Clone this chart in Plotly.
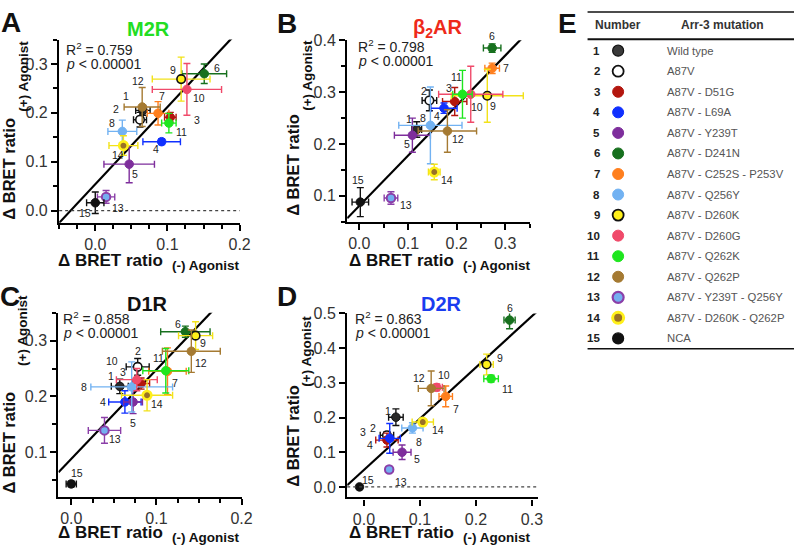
import plotly.graph_objects as go

W, H = 805, 546

# ---------------- data ----------------
numbers = list(range(1, 16))
mutations = ["Wild type", "A87V", "A87V - D51G", "A87V - L69A", "A87V - Y239T",
             "A87V - D241N", "A87V - C252S - P253V", "A87V - Q256Y", "A87V - D260K",
             "A87V - D260G", "A87V - Q262K", "A87V - Q262P", "A87V - Y239T - Q256Y",
             "A87V - D260K - Q262P", "NCA"]

# M2R
m2r_x = [0.066, 0.062, 0.104, 0.092, 0.047, 0.151, 0.087, 0.0375, 0.119, 0.127, 0.102, 0.065, 0.015, 0.039, 0.0]
m2r_y = [0.205, 0.186, 0.191, 0.141, 0.095, 0.280, 0.199, 0.162, 0.269, 0.248, 0.179, 0.212, 0.028, 0.133, 0.016]
m2r_xerr = [0.010, 0.009, 0.008, 0.026, 0.035, 0.031, 0.015, 0.020, 0.040, 0.048, 0.010, 0.025, 0.012, 0.020, 0.012]
m2r_yerr = [0.010, 0.015, 0.010, 0.006, 0.038, 0.020, 0.024, 0.023, 0.045, 0.053, 0.020, 0.040, 0.013, 0.020, 0.022]
m2r_fit = (1.58, 0.054)
m2r_stats = ("0.759", "0.00001")

# beta2AR
b2ar_x = [0.118, 0.144, 0.196, 0.174, 0.109, 0.273, 0.273, 0.146, 0.263, 0.229, 0.212, 0.181, 0.065, 0.154, 0.002]
b2ar_y = [0.228, 0.284, 0.282, 0.269, 0.217, 0.385, 0.346, 0.236, 0.293, 0.296, 0.296, 0.225, 0.096, 0.146, 0.088]
b2ar_xerr = [0.010, 0.015, 0.025, 0.027, 0.037, 0.018, 0.015, 0.065, 0.074, 0.066, 0.020, 0.060, 0.014, 0.012, 0.017]
b2ar_yerr = [0.015, 0.020, 0.027, 0.010, 0.033, 0.008, 0.010, 0.074, 0.051, 0.054, 0.046, 0.041, 0.012, 0.015, 0.028]
b2ar_fit = (0.966, 0.081)
b2ar_stats = ("0.798", "0.00001")

# D1R
d1r_x = [0.057, 0.078, 0.082, 0.063, 0.0726, 0.134, 0.113, 0.071, 0.146, 0.077, 0.111, 0.141, 0.039, 0.089, 0.0]
d1r_y = [0.218, 0.253, 0.223, 0.190, 0.190, 0.316, 0.245, 0.217, 0.309, 0.230, 0.246, 0.281, 0.139, 0.202, 0.043]
d1r_xerr = [0.010, 0.0135, 0.010, 0.019, 0.011, 0.029, 0.022, 0.048, 0.020, 0.024, 0.027, 0.034, 0.019, 0.030, 0.006]
d1r_yerr = [0.013, 0.015, 0.010, 0.020, 0.021, 0.010, 0.042, 0.045, 0.025, 0.020, 0.040, 0.038, 0.023, 0.028, 0.005]
d1r_fit = (1.6, 0.088)
d1r_stats = ("0.858", "0.00001")

# D2R
d2r_x = [0.057, 0.041, 0.041, 0.046, 0.068, 0.260, 0.146, 0.0865, 0.219, 0.130, 0.227, 0.120, 0.045, 0.105, -0.008]
d2r_y = [0.201, 0.149, 0.135, 0.140, 0.100, 0.481, 0.261, 0.170, 0.353, 0.287, 0.312, 0.284, 0.050, 0.187, 0.0]
d2r_xerr = [0.013, 0.012, 0.020, 0.019, 0.016, 0.010, 0.012, 0.019, 0.012, 0.010, 0.013, 0.023, 0.005, 0.019, 0.004]
d2r_yerr = [0.024, 0.010, 0.020, 0.043, 0.021, 0.025, 0.030, 0.015, 0.030, 0.010, 0.010, 0.050, 0.005, 0.010, 0.004]
d2r_fit = (1.478, 0.049)
d2r_stats = ("0.863", "0.00001")

# ---------------- styles ----------------
fill = ["#2a2a2a", "#ffffff", "#b3160e", "#1030ff", "#7e2e9c", "#17701e", "#ff7f1e", "#72b2f2",
        "#fff01a", "#f04a6a", "#1ee61e", "#a57a32", "#74aef0", "#9a7126", "#111111"]
edge = ["#111111", "#111111", "#b3160e", "#1030ff", "#7e2e9c", "#17701e", "#ff7f1e", "#72b2f2",
        "#111111", "#f04a6a", "#1ee61e", "#a57a32", "#8b3fa8", "#fff01a", "#111111"]
edge_w = [1, 1.6, 1, 1, 1, 1, 1, 1, 1.6, 1, 1, 1, 2, 2.6, 1]
barc = ["#111111", "#111111", "#b3160e", "#1030ff", "#7e2e9c", "#17701e", "#ff7f1e", "#72b2f2",
        "#f2e21a", "#f04a6a", "#1ee61e", "#a57a32", "#8b3fa8", "#f2e21a", "#111111"]

FONT = "Liberation Sans"

# label offsets (px): dx right, dy up
off_A = [(-17, 14), (-24, 11), (27, -3), (-6, -7), (6, -10), (13, 6), (4, 17), (-10, 8),
         (-8, 9), (12, -9), (13, -9), (-4, 26), (12, -11), (-5, -9), (-10, -10)]
off_B = [(-8, 10), (-5, 9), (-6, 13), (-7, -8), (-5, -9), (0, 12), (14, 0), (-7, 7),
         (6, -10), (6, -13), (-6, 17), (11, -8), (15, -7), (13, -8), (-2, 22)]
off_C = [(-9, 10), (0, 16), (-18, 12), (-22, 0), (0, -21), (-7, 8), (8, -12), (-48, 0),
         (7, -7), (-25, 19), (-7, 13), (10, -12), (11, -9), (10, -9), (6, 11)]
off_D = [(-8, 6), (-14, 7), (-24, 8), (-20, -7), (15, -7), (0, 12), (10, -13), (7, -14),
         (13, 6), (7, 12), (16, -10), (-12, 10), (12, -12), (15, -8), (8, 7)]


def fx(p):
    return p / W


def fy(p):
    return 1 - p / H


panels = [
    dict(key="", X=m2r_x, Y=m2r_y, XE=m2r_xerr, YE=m2r_yerr, fit=m2r_fit, stats=m2r_stats, off=off_A,
         xdom=(60, 243), ydom=(32, 218), xr=(-0.05, 0.2001), yr=(-0.025, 0.35), xminor=0.025, yminor=0.05,
         letter=("A", 11.5, 15), title=("M2R", "#22dd22", 151, 21), stat_pos=(65, 42), zero=True,
         xt=(167, 172, 256), yt=(9, 217, 23, 31)),
    dict(key="2", X=b2ar_x, Y=b2ar_y, XE=b2ar_xerr, YE=b2ar_yerr, fit=b2ar_fit, stats=b2ar_stats, off=off_B,
         xdom=(352, 537), ydom=(32.7, 217), xr=(-0.025, 0.3501), yr=(0.05, 0.4001), xminor=0.05, yminor=0.05,
         letter=("B", 291, 16), title=("β<sub>2</sub>AR", "#ee2a1a", 444, 21), stat_pos=(361, 39), zero=False,
         xt=(462, 467, 256), yt=(297, 213, 311, 30)),
    dict(key="3", X=d1r_x, Y=d1r_y, XE=d1r_xerr, YE=d1r_yerr, fit=d1r_fit, stats=d1r_stats, off=off_C,
         xdom=(59.3, 245), ydom=(309.3, 496), xr=(-0.015, 0.2001), yr=(0.02, 0.35), xminor=0.025, yminor=0.05,
         letter=("C", 10, 293), title=("D1R", "#111111", 150, 300), stat_pos=(62, 315), zero=False,
         xt=(167, 172, 532.5), yt=(9, 495, 23, 289)),
    dict(key="4", X=d2r_x, Y=d2r_y, XE=d2r_xerr, YE=d2r_yerr, fit=d2r_fit, stats=d2r_stats, off=off_D,
         xdom=(352, 545), ydom=(310, 496.6), xr=(-0.03, 0.31), yr=(-0.03, 0.5001), xminor=None, yminor=None,
         letter=("D", 291, 293), title=("D2R", "#1a3cf0", 448, 300), stat_pos=(358, 315), zero=True,
         xt=(462, 467, 532.5), yt=(297, 488, 311, 310)),
]

fig = go.Figure()
annotations = []
shapes = []
layout = {}


def ann(x, y, text, size, color="#111", xa="center", ya="middle", ref=("paper", "paper"), **kw):
    d = dict(x=x, y=y, xref=ref[0], yref=ref[1], text=text, showarrow=False, xanchor=xa, yanchor=ya,
             font=dict(family=FONT, size=size, color=color))
    d.update(kw)
    annotations.append(d)


for p in panels:
    k = p["key"]
    xa, ya = "x" + k, "y" + k
    slope, icpt = p["fit"]
    xs = [p["xr"][0], p["xr"][1]]
    fig.add_trace(go.Scatter(x=xs, y=[slope * v + icpt for v in xs], mode="lines",
                             line=dict(color="black", width=2.2), xaxis=xa, yaxis=ya,
                             showlegend=False, hoverinfo="skip"))
    for i in range(15):
        fig.add_trace(go.Scatter(
            x=[p["X"][i]], y=[p["Y"][i]], mode="markers", xaxis=xa, yaxis=ya, showlegend=False,
            marker=dict(size=8.5, color=fill[i], line=dict(color=edge[i], width=edge_w[i])),
            error_x=dict(type="data", array=[p["XE"][i]], color=barc[i], thickness=1.4, width=3.5),
            error_y=dict(type="data", array=[p["YE"][i]], color=barc[i], thickness=1.4, width=3.5),
            name=mutations[i]))
        dx, dy = p["off"][i]
        ann(p["X"][i], p["Y"][i], str(numbers[i]), 10.5, "#222", ref=(xa, ya), xshift=dx, yshift=dy)
    common = dict(showline=True, linewidth=2.4, linecolor="black", ticks="outside", ticklen=6,
                  tickwidth=2.2, tickcolor="black", showgrid=False, zeroline=False, tickformat=".1f",
                  tick0=0, dtick=0.1, tickfont=dict(family=FONT, size=16, color="#333"), fixedrange=True)
    xd = dict(common, domain=[fx(p["xdom"][0]), fx(p["xdom"][1])], range=list(p["xr"]), anchor=ya)
    yd = dict(common, domain=[fy(p["ydom"][1]), fy(p["ydom"][0])], range=list(p["yr"]), anchor=xa)
    if p["xminor"]:
        xd["minor"] = dict(dtick=p["xminor"], tick0=0, ticks="outside", ticklen=4, tickwidth=2, tickcolor="black")
    if p["yminor"]:
        yd["minor"] = dict(dtick=p["yminor"], tick0=0, ticks="outside", ticklen=4, tickwidth=2, tickcolor="black")
    layout["xaxis" + k] = xd
    layout["yaxis" + k] = yd

    if p["zero"]:
        shapes.append(dict(type="line", xref=xa + " domain", yref=ya, x0=0, x1=1, y0=0, y1=0,
                           line=dict(color="#444", width=1.2, dash="dot")))
    L, lx, ly = p["letter"]
    ann(fx(lx), fy(ly), "<b>%s</b>" % L, 28)
    t, tc, tx, ty = p["title"]
    ann(fx(tx), fy(ty), "<b>%s</b>" % t, 20, tc)
    sx, sy = p["stat_pos"]
    r2, pv = p["stats"]
    ann(fx(sx), fy(sy), "R<sup>2</sup> = %s" % r2, 14, "#222", xa="left")
    ann(fx(sx), fy(sy + 15), "<i>p</i> < %s" % pv, 14, "#222", xa="left")
    mr, sl, ty2 = p["xt"]
    ann(fx(mr), fy(ty2), "<b>Δ BRET ratio</b>", 17, xa="right")
    ann(fx(sl), fy(ty2 + 5), "<b>(-) Agonist</b>", 13.5, xa="left")
    mx, mb, sx2, st = p["yt"]
    ann(fx(mx), fy(mb), "<b>Δ BRET ratio</b>", 16.5, ya="bottom", textangle=-90)
    ann(fx(sx2), fy(st), "<b>(+) Agonist</b>", 13.5, ya="top", textangle=-90)

# ---------------- table E ----------------
T_LEFT = 595.7
row0, rowh = 43.3, 20.86
top_idx = 1 - row0 / rowh
bot_idx = 1 + (360 - row0) / rowh
layout["xaxis5"] = dict(domain=[fx(T_LEFT), 1], range=[0, W - T_LEFT], visible=False, anchor="y5", fixedrange=True)
layout["yaxis5"] = dict(domain=[fy(360), 1], range=[bot_idx, top_idx], visible=False, anchor="x5", fixedrange=True)

fig.add_trace(go.Scatter(x=[31] * 15, y=numbers, mode="markers", xaxis="x5", yaxis="y5", showlegend=False,
                         marker=dict(size=11, color=["#3a3a3a"] + fill[1:],
                                     line=dict(color=edge, width=[1.2, 1.8, 1, 1, 1, 1, 1, 1, 1.8, 1, 1, 1, 2.2, 3, 1.2]))))
for i in range(15):
    ann(14.3, numbers[i], "<b>%d</b>" % numbers[i], 11.5, "#222", xa="right", ref=("x5", "y5"))
    ann(78.6, numbers[i], mutations[i], 11.3, "#555", xa="left", ref=("x5", "y5"))
ann(31.3, top_idx + 17.3 / rowh, "<b>Number</b>", 12, "#333", ref=("x5", "y5"))
ann(137.3, top_idx + 17.3 / rowh, "<b>Arr-3 mutation</b>", 12, "#333", ref=("x5", "y5"))
ann(fx(575), fy(16), "<b>E</b>", 28)
for yy, lw in [(4, 1.5), (31.7, 2), (345.7, 1.5)]:
    shapes.append(dict(type="line", xref="paper", yref="paper", x0=fx(T_LEFT), x1=1, y0=fy(yy), y1=fy(yy),
                       line=dict(color="#111", width=lw)))

fig.update_layout(width=W, height=H, margin=dict(l=0, r=0, t=0, b=0), plot_bgcolor="white",
                  paper_bgcolor="white", annotations=annotations, shapes=shapes, showlegend=False, **layout)
fig.write_html("out.html", config={"displayModeBar": False},
               post_script="document.body.style.margin='0';")
